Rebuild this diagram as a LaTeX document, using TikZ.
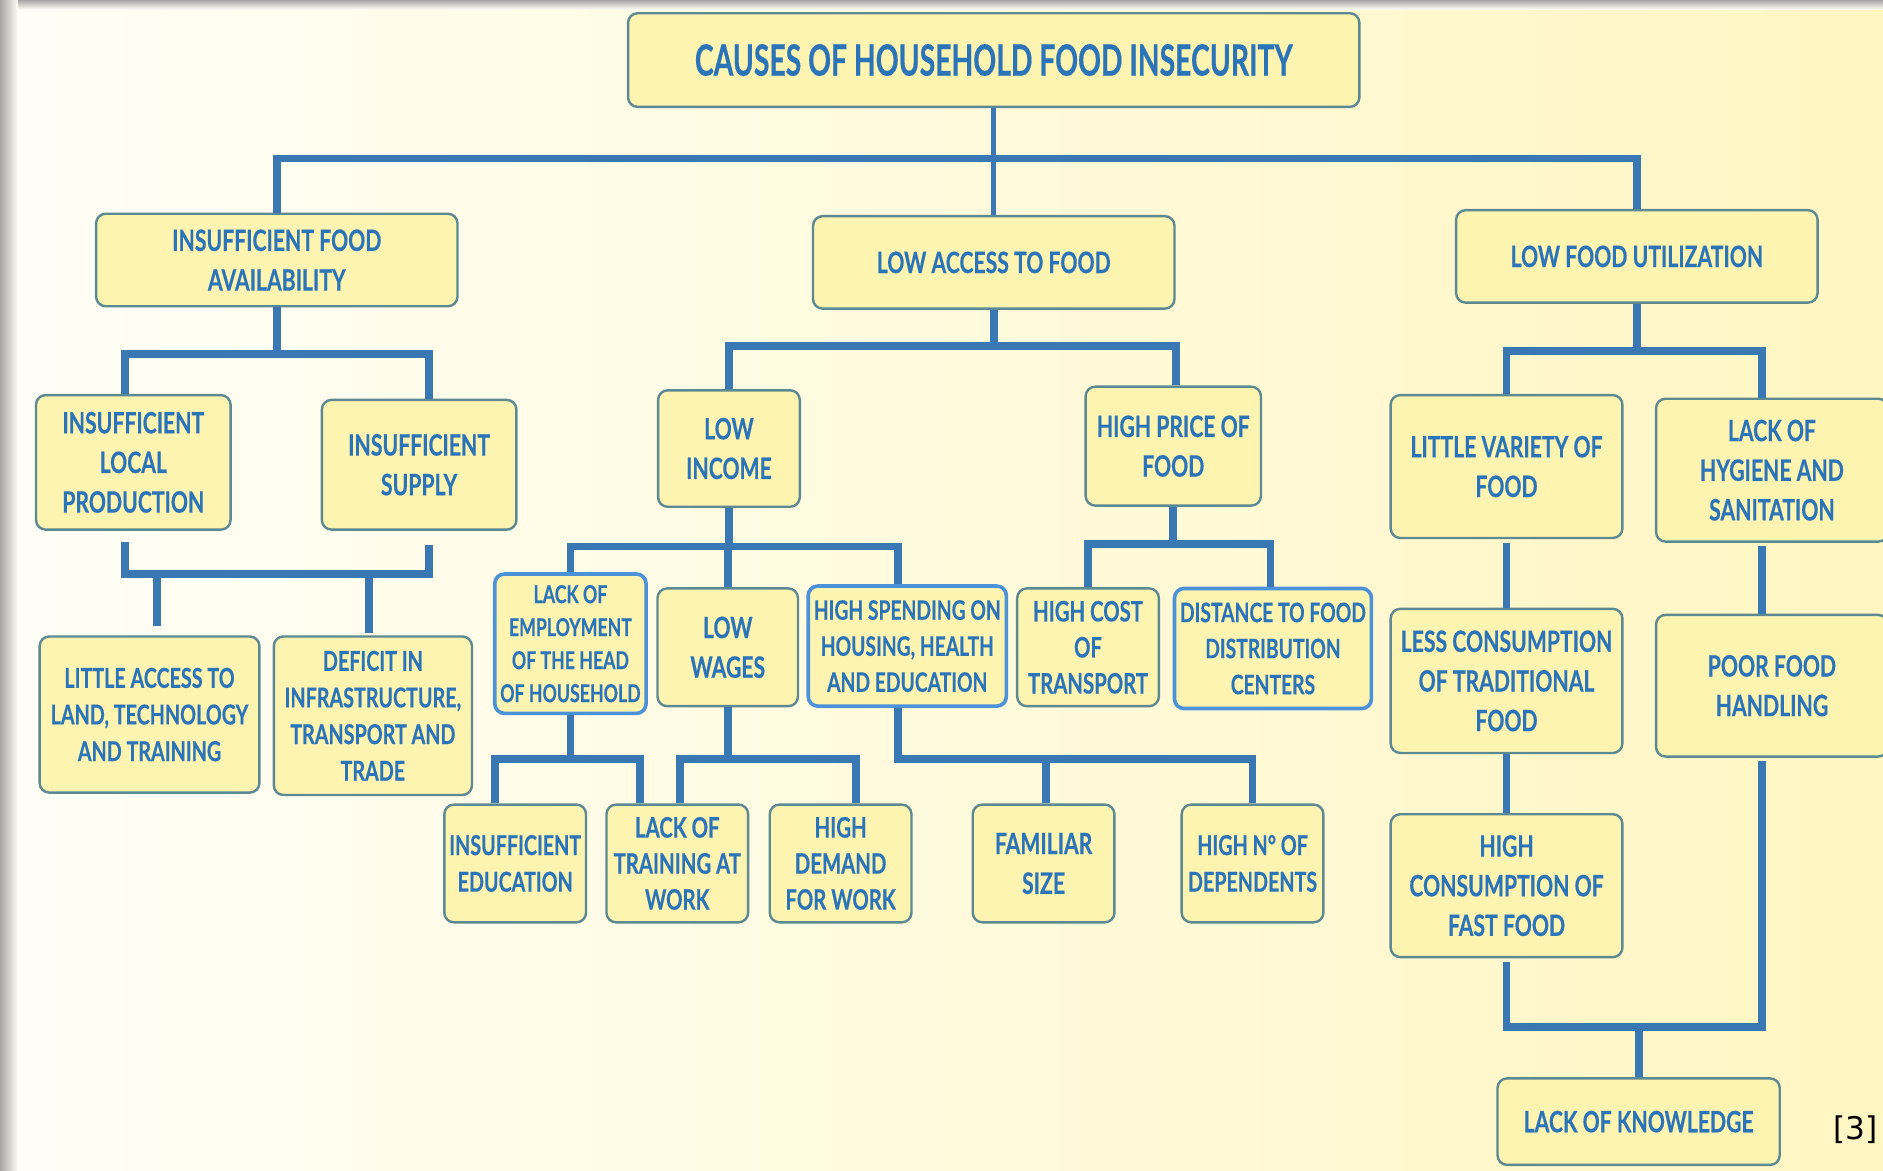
\documentclass[tikz,border=0pt]{standalone}
\usepackage{fontspec}
\newfontfamily\bfont{Lato}[FakeStretch=0.72, FakeBold=0.4]
\newfontfamily\tfont{Lato}[FakeStretch=0.655, FakeBold=0.4]
\newfontfamily\rfont{DejaVu Sans}
\definecolor{txtblue}{HTML}{2C74B8}
\definecolor{lineblue}{HTML}{3A78B4}
\definecolor{boxfill}{HTML}{FDF4B2}
\definecolor{boxedge}{HTML}{5D8A92}
\definecolor{brightedge}{HTML}{4C92D8}
\definecolor{bgleft}{HTML}{FFFEF7}
\definecolor{bgright}{HTML}{FFF6C2}
\tikzset{
  box/.style={draw=boxedge, fill=boxfill, rounded corners=8pt, line width=2pt,
    align=center, inner sep=0pt, text=txtblue,
    font=\bfont\bfseries\fontsize{24.5}{33}\selectfont},
  bright/.style={draw=brightedge, line width=3pt},
  sz/.style 2 args={minimum width=#1, minimum height=#2},
  fnt19/.style={font=\bfont\bfseries\fontsize{20.5}{27.5}\selectfont},
  fnt20/.style={font=\bfont\bfseries\fontsize{22.3}{30}\selectfont},
  fnt21/.style={font=\bfont\bfseries\fontsize{23.5}{30}\selectfont},
  fnt22/.style={font=\bfont\bfseries\fontsize{22.8}{30.5}\selectfont},
  conn/.style={draw=lineblue, line width=6.5pt},
}
\begin{document}
\begin{tikzpicture}[x=1pt,y=-1pt]
\useasboundingbox (0,0) rectangle (1568,975);
\clip (0,0) rectangle (1568,975);
% background
\shade[left color=bgleft, right color=bgright] (0,0) rectangle (1568,975);
\shade[left color=black!35, right color=bgleft] (0,0) rectangle (15,975);
\shade[top color=black!35, bottom color=bgleft] (15,0) rectangle (1568,8);

% nodes
\node[box, sz={609pt}{78pt}, font=\tfont\bfseries\fontsize{36}{40}\selectfont] (title) at (827.5,50) {CAUSES OF HOUSEHOLD FOOD INSECURITY};
\node[box,sz={301pt}{77pt}] (ifa) at (230.5,216.5) {INSUFFICIENT FOOD\\AVAILABILITY};
\node[box,sz={301pt}{77pt}] (laf) at (827.5,218.5) {LOW ACCESS TO FOOD};
\node[box,sz={301pt}{77pt}] (lfu) at (1363,213.5) {LOW FOOD UTILIZATION};
\node[box,sz={162pt}{112pt}] (ilp) at (111,385) {INSUFFICIENT\\LOCAL\\PRODUCTION};
\node[box,sz={162pt}{108pt}] (is) at (349,387) {INSUFFICIENT\\SUPPLY};
\node[box,sz={183pt}{130pt},fnt22] (lat) at (124.5,595) {LITTLE ACCESS TO\\LAND, TECHNOLOGY\\AND TRAINING};
\node[box,sz={165pt}{132pt},fnt22] (dit) at (310.5,596) {DEFICIT IN\\INFRASTRUCTURE,\\TRANSPORT AND\\TRADE};
\node[box,sz={118pt}{97pt}] (li) at (607,373.5) {LOW\\INCOME};
\node[box,sz={146pt}{99pt}] (hpf) at (977,371.5) {HIGH PRICE OF\\FOOD};
\node[box,bright,sz={126pt}{116pt},fnt19] (leh) at (475,536) {LACK OF\\EMPLOYMENT\\OF THE HEAD\\OF HOUSEHOLD};
\node[box,sz={117pt}{98pt}] (lw) at (606,539) {LOW\\WAGES};
\node[box,bright,sz={165pt}{100pt},fnt20] (hsh) at (755.5,538) {HIGH SPENDING ON\\HOUSING, HEALTH\\AND EDUCATION};
\node[box,sz={118pt}{98pt},fnt21] (hct) at (906,539) {HIGH COST\\OF\\TRANSPORT};
\node[box,bright,sz={164pt}{100pt},fnt20] (dfd) at (1060,540) {DISTANCE TO FOOD\\DISTRIBUTION\\CENTERS};
\node[box,sz={118pt}{98pt},fnt22] (ie) at (429,719) {INSUFFICIENT\\EDUCATION};
\node[box,sz={118pt}{98pt},fnt21] (ltw) at (564,719) {LACK OF\\TRAINING AT\\WORK};
\node[box,sz={118pt}{98pt},fnt21] (hdw) at (700,719) {HIGH\\DEMAND\\FOR WORK};
\node[box,sz={118pt}{98pt}] (fsz) at (869,719) {FAMILIAR\\SIZE};
\node[box,sz={118pt}{98pt},fnt22] (hnd) at (1043,719) {HIGH N° OF\\DEPENDENTS};
\node[box,sz={193pt}{119pt}] (lvf) at (1254.5,388.5) {LITTLE VARIETY OF\\FOOD};
\node[box,sz={193pt}{119pt}] (lhs) at (1475.5,391.5) {LACK OF\\HYGIENE AND\\SANITATION};
\node[box,sz={193pt}{120pt}] (lct) at (1254.5,567) {LESS CONSUMPTION\\OF TRADITIONAL\\FOOD};
\node[box,sz={193pt}{118pt}] (pfh) at (1475.5,571) {POOR FOOD\\HANDLING};
\node[box,sz={193pt}{119pt}] (hcf) at (1254.5,737.5) {HIGH\\CONSUMPTION OF\\FAST FOOD};
\node[box,sz={235pt}{72pt}] (lk) at (1364.5,934) {LACK OF KNOWLEDGE};
\node[font=\rfont\fontsize{26}{30}\selectfont, text=black] (ref) at (1545,941) {[3]};

% bar levels
\coordinate (b0) at (0,132);
\coordinate (b1) at (0,295);
\coordinate (b2) at (0,478);
\coordinate (b3) at (0,288);
\coordinate (b4) at (0,455);
\coordinate (b5) at (0,453);
\coordinate (b6) at (0,632);
\coordinate (b7) at (0,292);
\coordinate (b8) at (0,855);

% attachment points
\path ([xshift=-7pt]ilp.north) coordinate (ilpT)
      ([xshift=8pt]is.north) coordinate (isT)
      ([xshift=-7pt]ilp.south) coordinate (ilpB)
      ([xshift=8pt]is.south) coordinate (isB)
      ([xshift=6.5pt]lat.north) coordinate (latT)
      ([xshift=-3.5pt]dit.north) coordinate (ditT)
      ([xshift=2pt]hpf.north) coordinate (hpfT)
      ([xshift=-7.5pt]hsh.north) coordinate (hshT)
      ([xshift=-7.5pt]hsh.south) coordinate (hshB)
      ([xshift=-2pt]dfd.north) coordinate (dfdT)
      ([xshift=-17pt]ie.north) coordinate (ieT)
      ([xshift=-31pt]ltw.north) coordinate (ltwA)
      ([xshift=2pt]ltw.north) coordinate (ltwB)
      ([xshift=13pt]hdw.north) coordinate (hdwT)
      ([xshift=2pt]fsz.north) coordinate (fszT)
      ([xshift=-8pt]lhs.north) coordinate (lhsT)
      ([xshift=-8pt]lhs.south) coordinate (lhsB)
      ([xshift=-8pt]pfh.north) coordinate (pfhT)
      ([xshift=-8pt]pfh.south) coordinate (pfhB);

% connectors
\draw[conn, line width=4.5pt] (title.south) -- (laf.north);
\draw[conn] (ifa.north) |- (b0 -| lfu.north) -- (lfu.north);

\draw[conn] (ifa.south) -- (ifa.south |- b1);
\draw[conn] (ilpT) |- (b1 -| isT) -- (isT);

\draw[conn, shorten <=9pt, shorten >=12pt] (ilpB) |- (b2 -| isB) -- (isB);
\draw[conn, shorten <=8pt] (latT) -- (latT |- b2);
\draw[conn, shorten <=2pt] (ditT) -- (ditT |- b2);

\draw[conn] (laf.south) -- (laf.south |- b3);
\draw[conn] (li.north) |- (b3 -| hpfT) -- (hpfT);

\draw[conn] (li.south) -- (li.south |- b4);
\draw[conn] (leh.north) |- (b4 -| hshT) -- (hshT);
\draw[conn] (lw.north) -- (lw.north |- b4);

\draw[conn] (hpf.south) -- (hpf.south |- b5);
\draw[conn] (hct.north) |- (b5 -| dfdT) -- (dfdT);

\draw[conn] (leh.south) -- (leh.south |- b6);
\draw[conn] (ieT) |- (b6 -| ltwA) -- (ltwA);

\draw[conn] (lw.south) -- (lw.south |- b6);
\draw[conn] (ltwB) |- (b6 -| hdwT) -- (hdwT);

\draw[conn] (hshB) |- (b6 -| hnd.north) -- (hnd.north);
\draw[conn] (fszT) -- (fszT |- b6);

\draw[conn] (lfu.south) -- (lfu.south |- b7);
\draw[conn] (lvf.north) |- (b7 -| lhsT) -- (lhsT);

\draw[conn, shorten <=3pt] (lvf.south) -- (lct.north);
\draw[conn] (lct.south) -- (hcf.north);
\draw[conn, shorten <=3pt] (lhsB) -- (pfhT);

\draw[conn, shorten <=3pt, shorten >=3pt] (hcf.south) |- (b8 -| pfhB) -- (pfhB);
\draw[conn] (lk.north) -- (lk.north |- b8);
\end{tikzpicture}
\end{document}
